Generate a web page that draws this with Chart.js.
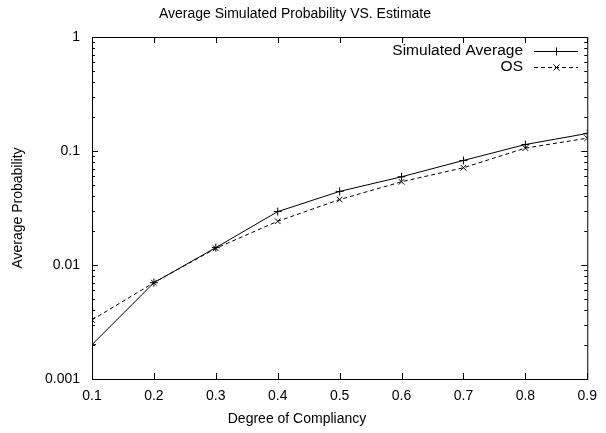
<!DOCTYPE html>
<html>
<head>
<meta charset="utf-8">
<script src="https://cdn.jsdelivr.net/npm/chart.js@4/dist/chart.umd.min.js"></script>
<style>
  body { margin: 0; background: #fff; }
  #chart { display: block; }
</style>
</head>
<body>
<canvas id="chart" width="606" height="433"></canvas>
<script>
// degree of compliancy
var compliancy = [0.1, 0.2, 0.3, 0.4, 0.5, 0.6, 0.7, 0.8, 0.9];
// values
var simulatedAvg = [0.0020, 0.0070, 0.0142, 0.0294, 0.0442, 0.0594, 0.0826, 0.114, 0.1425];
var osEstimate   = [0.0033, 0.0070, 0.0140, 0.0242, 0.0375, 0.0537, 0.0713, 0.106, 0.1295];
var yTickValues = [0.001, 0.01, 0.1, 1];
var yTickLabels = ["0.001", "0.01", "0.1", "1"];

var FONT = "Liberation Sans, Arial, Helvetica, sans-serif";

function toPoints(xs, ys) {
  return xs.map(function(x, i) { return { x: x, y: ys[i] }; });
}

// gnuplot look: box, inward ticks on all sides, labels and legend
var gnuplotStuff = {
  id: "gnuplotStuff",
  afterDraw: function(chart) {
    var ctx = chart.ctx;
    var a = chart.chartArea;
    var xs = chart.scales.x, ys = chart.scales.y;
    ctx.save();
    ctx.strokeStyle = "#000";
    ctx.lineWidth = 1;
    ctx.strokeRect(a.left + 0.5, a.top + 0.5, a.right - a.left, a.bottom - a.top);

    ctx.beginPath();
    compliancy.forEach(function(v) {
      var px = Math.round(xs.getPixelForValue(v)) + 0.5;
      ctx.moveTo(px, a.bottom); ctx.lineTo(px, a.bottom - 6);
      ctx.moveTo(px, a.top); ctx.lineTo(px, a.top + 6);
    });
    for (var d = 0.001; d < 1.5; d *= 10) {
      for (var m = 1; m <= 9; m++) {
        var v = d * m;
        if (v > 1.0001) break;
        var py = Math.round(ys.getPixelForValue(v)) + 0.5;
        var len = m === 1 ? 6 : 3;
        ctx.moveTo(a.left, py); ctx.lineTo(a.left + len, py);
        ctx.moveTo(a.right, py); ctx.lineTo(a.right - len, py);
      }
    }
    ctx.stroke();

    ctx.fillStyle = "#000";
    ctx.font = "14px " + FONT;
    ctx.textBaseline = "middle";
    ctx.textAlign = "center";
    ctx.fillText("Average Simulated Probability VS. Estimate", 295, 14);
    ctx.fillText("Degree of Compliancy", 297, 419);
    ctx.save();
    ctx.translate(18, 208);
    ctx.rotate(-Math.PI / 2);
    ctx.fillText("Average Probability", 0, 0);
    ctx.restore();

    // legend
    var rows = [
      { label: "Simulated Average", y: 51, dash: [], style: "plus" },
      { label: "OS", y: 67, dash: [4, 3], style: "x" }
    ];
    ctx.font = "15.5px " + FONT;
    rows.forEach(function(r) {
      ctx.textAlign = "right";
      ctx.fillText(r.label, 523, r.y);
      ctx.beginPath();
      ctx.setLineDash(r.dash);
      ctx.moveTo(534, r.y + 0.5); ctx.lineTo(578, r.y + 0.5);
      ctx.stroke();
      ctx.setLineDash([]);
      ctx.beginPath();
      var cx = 556.5, cy = r.y + 0.5;
      if (r.style === "plus") {
        ctx.moveTo(cx - 4, cy); ctx.lineTo(cx + 4, cy);
        ctx.moveTo(cx, cy - 4); ctx.lineTo(cx, cy + 4);
      } else {
        ctx.moveTo(cx - 3, cy - 3); ctx.lineTo(cx + 3, cy + 3);
        ctx.moveTo(cx - 3, cy + 3); ctx.lineTo(cx + 3, cy - 3);
      }
      ctx.stroke();
    });
    ctx.restore();
  }
};

var ctx = document.getElementById("chart");

var chartData = {
  datasets: [{
    label: "Simulated Average",
    data: toPoints(compliancy, simulatedAvg),
    borderColor: "#000",
    backgroundColor: "#000",
    borderWidth: 1,
    tension: 0,
    pointStyle: "cross",
    pointRadius: 4,
    pointBorderWidth: 1,
    fill: false
  }, {
    label: "OS",
    data: toPoints(compliancy, osEstimate),
    borderColor: "#000",
    backgroundColor: "#000",
    borderWidth: 1,
    borderDash: [4, 3],
    tension: 0,
    pointStyle: "crossRot",
    pointRadius: 4,
    pointBorderWidth: 1,
    fill: false
  }]
};

var options = {
  responsive: false,
  animation: false,
  devicePixelRatio: 1,
  layout: { padding: { top: 37, right: 9, left: 0, bottom: 0 } },
  plugins: {
    legend: { display: false },
    title: { display: false },
    tooltip: { enabled: false }
  },
  scales: {
    x: {
      type: "linear",
      min: 0.1,
      max: 0.9,
      afterFit: function(s) { s.height = 54; },
      afterBuildTicks: function(s) {
        s.ticks = compliancy.map(function(v) { return { value: v }; });
      },
      grid: { display: false, drawTicks: false },
      border: { display: false },
      ticks: {
        autoSkip: false,
        maxRotation: 0,
        padding: 9,
        color: "#000",
        font: { family: FONT, size: 14 },
        callback: function(v) { return v.toFixed(1); }
      }
    },
    y: {
      type: "logarithmic",
      min: 0.001,
      max: 1,
      afterFit: function(s) { s.width = 92; },
      afterBuildTicks: function(s) {
        s.ticks = yTickValues.map(function(v) { return { value: v }; });
      },
      grid: { display: false, drawTicks: false },
      border: { display: false },
      ticks: {
        padding: 12,
        color: "#000",
        font: { family: FONT, size: 14 },
        callback: function(v) {
          var i = yTickValues.indexOf(v);
          return i >= 0 ? yTickLabels[i] : "";
        }
      }
    }
  }
};

var chart = new Chart(ctx, {
  type: "line",
  data: chartData,
  options: options,
  plugins: [gnuplotStuff]
});
</script>
</body>
</html>
